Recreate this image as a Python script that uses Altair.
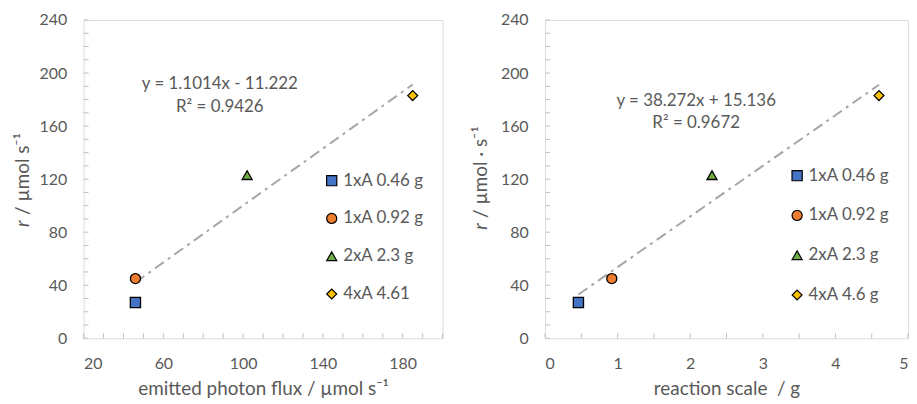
import altair as alt
import pandas as pd

# ---- data ----
labels_left = ["1xA 0.46 g", "1xA 0.92 g", "2xA 2.3 g", "4xA 4.61"]
labels_right = ["1xA 0.46 g", "1xA 0.92 g", "2xA 2.3 g", "4xA 4.6 g"]
photon_flux = [46, 46, 102, 185]
reaction_scale = [0.46, 0.92, 2.3, 4.6]
rate = [27, 45, 123, 183]
eq_left = "y = 1.1014x - 11.222\nR² = 0.9426"
eq_right = "y = 38.272x + 15.136\nR² = 0.9672"
x_major_left = [20, 60, 100, 140, 180]
x_minor_left = list(range(20, 201, 10))
x_major_right = [0, 1, 2, 3, 4, 5]
x_minor_right = [0, 0.5, 1, 1.5, 2, 2.5, 3, 3.5, 4, 4.5, 5]
y_major = [0, 40, 80, 120, 160, 200, 240]
y_minor = list(range(0, 241, 10))

colors = ["#4472C4", "#ED7D31", "#70AD47", "#FFC000"]
shapes = ["square", "circle", "triangle-up", "diamond"]
strokes = ["black", "black", "black", "black"]
marker_sizes = [105, 100, 125, 85]

FONT = "Lato"
TXT = "#595959"
H = 320


def panel(xvals, labels, xdomain, xmajor, xminor, xtitle, ytitle_rest, eq,
          leg_x, leg_y, row_pad, eq_x, eq_y, yt_x, yt_y, width):
    df = pd.DataFrame({"x": xvals, "y": rate, "series": labels})
    xs = alt.Scale(domain=xdomain, nice=False, zero=False)
    ys = alt.Scale(domain=[0, 240], nice=False)
    xaxis = alt.Axis(values=xmajor, format="d", tickSize=0, domain=False, grid=False,
                     labelFontSize=16, labelColor=TXT, labelFont=FONT, labelPadding=17,
                     title=xtitle, titleFontSize=19, titleColor=TXT, titleFont=FONT,
                     titleFontWeight="normal", titlePadding=9)
    yaxis = alt.Axis(values=y_major, format="d", tickSize=0, domain=False, grid=False,
                     labelFontSize=16, labelColor=TXT, labelFont=FONT, labelPadding=17,
                     title=None)
    base = alt.Chart(df)

    legend = alt.Legend(orient="none", legendX=leg_x, legendY=leg_y, title=None,
                        labelFontSize=17, labelColor=TXT, labelFont=FONT,
                        symbolSize=90, symbolStrokeWidth=1.2,
                        symbolOpacity=1, rowPadding=row_pad, padding=0, labelOffset=3)

    xticks = alt.Chart(pd.DataFrame({"x": xminor})).mark_rule(color="#BFBFBF").encode(
        x=alt.X("x:Q", scale=xs, axis=xaxis), y=alt.value(H - 5), y2=alt.value(H))
    yticks = alt.Chart(pd.DataFrame({"y": y_minor})).mark_rule(color="#BFBFBF").encode(
        y=alt.Y("y:Q", scale=ys, axis=yaxis), x=alt.value(0), x2=alt.value(5))

    trend = base.transform_regression("x", "y").mark_line(
        stroke="#A6A6A6", strokeWidth=2, strokeDash=[11, 5, 3, 5]).encode(
        x=alt.X("x:Q", scale=xs), y=alt.Y("y:Q", scale=ys))

    pts = base.mark_point(filled=True, strokeWidth=1.3, opacity=1).encode(
        x=alt.X("x:Q", scale=xs),
        y=alt.Y("y:Q", scale=ys),
        color=alt.Color("series:N", scale=alt.Scale(domain=labels, range=colors), legend=legend),
        shape=alt.Shape("series:N", scale=alt.Scale(domain=labels, range=shapes), legend=legend),
        stroke=alt.Stroke("series:N", scale=alt.Scale(domain=labels, range=strokes), legend=legend),
        size=alt.Size("series:N", scale=alt.Scale(domain=labels, range=marker_sizes), legend=None),
    )

    eqtext = alt.Chart(pd.DataFrame({"t": [eq]})).mark_text(
        align="center", baseline="middle", fontSize=17, font=FONT, color=TXT,
        lineBreak="\n", lineHeight=23).encode(
        x=alt.value(eq_x), y=alt.value(eq_y), text="t:N")

    yt1 = alt.Chart(pd.DataFrame({"t": ["r"]})).mark_text(
        angle=270, align="left", baseline="middle", fontSize=19, font=FONT, color=TXT,
        fontStyle="italic").encode(x=alt.value(yt_x), y=alt.value(yt_y), text="t:N")
    yt2 = alt.Chart(pd.DataFrame({"t": [ytitle_rest]})).mark_text(
        angle=270, align="left", baseline="middle", fontSize=19, font=FONT, color=TXT).encode(
        x=alt.value(yt_x), y=alt.value(yt_y - 12), text="t:N")

    return alt.layer(xticks, yticks, trend, pts, eqtext, yt1, yt2).properties(
        width=width, height=H)


left = panel(photon_flux, labels_left, [20, 200], x_major_left, x_minor_left,
             "emitted photon flux / µmol s⁻¹", "/ µmol s⁻¹", eq_left,
             241, 153, 20, 137, 64, -61, 208, 361)
right = panel(reaction_scale, labels_right, [0, 5], x_major_right, x_minor_right,
              "reaction scale\u00a0 / g", "/ µmol · s⁻¹", eq_right,
              245, 148, 22, 152, 81, -64, 211, 365)

chart = alt.hconcat(left, right, spacing=103, bounds="flush").resolve_scale(
    color="independent", shape="independent", stroke="independent",
    size="independent").resolve_legend(
    color="independent", shape="independent", stroke="independent").properties(
    padding={"left": 5, "top": 2, "right": 0, "bottom": 0}).configure_view(
    stroke="#D9D9D9", strokeWidth=1).configure(background="white")

chart.save("out.html", embed_options={"renderer": "svg", "actions": False})
